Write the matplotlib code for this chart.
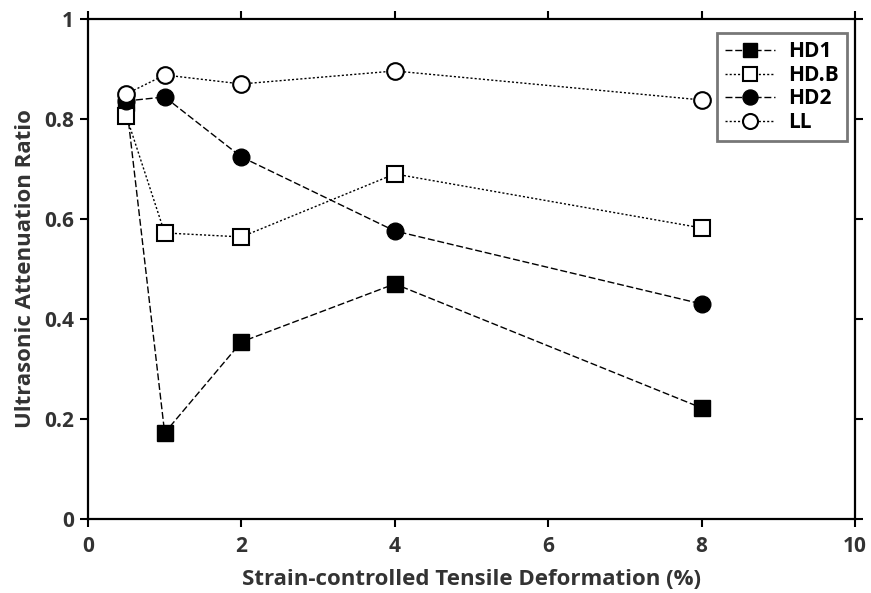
import matplotlib
matplotlib.use('Agg')
import matplotlib.pyplot as plt

plt.rcParams['font.family'] = ['Open Sans', 'DejaVu Sans']
plt.rcParams['font.weight'] = 'bold'

strain = [0.5, 1, 2, 4, 8]
hd1 = [0.832, 0.172, 0.354, 0.470, 0.222]
hdb = [0.806, 0.572, 0.564, 0.690, 0.582]
hd2 = [0.836, 0.844, 0.724, 0.576, 0.430]
ll = [0.850, 0.888, 0.870, 0.896, 0.838]

x_ticks = [0, 2, 4, 6, 8, 10]
y_ticks = [0, 0.2, 0.4, 0.6, 0.8, 1]
y_tick_labels = ['0', '0.2', '0.4', '0.6', '0.8', '1']

text_color = '#333333'

fig = plt.figure(figsize=(8.71, 5.93), dpi=100)
ax = fig.add_axes([0.101, 0.125, 0.8806, 0.843])

ax.plot(strain, hd1, ls=(0, (5, 2)), lw=1, color='black', marker='s', ms=11,
        mfc='black', mec='black', label='HD1')
ax.plot(strain, hdb, ls=(0, (1.5, 1.5)), lw=1, color='black', marker='s', ms=11,
        mfc='white', mec='black', mew=1.5, label='HD.B')
ax.plot(strain, hd2, ls=(0, (5, 2)), lw=1, color='black', marker='o', ms=12,
        mfc='black', mec='black', label='HD2')
ax.plot(strain, ll, ls=(0, (1.5, 1.5)), lw=1, color='black', marker='o', ms=12,
        mfc='white', mec='black', mew=1.5, label='LL')

ax.set_xlim(0, 10)
ax.set_ylim(0, 1)
ax.set_xticks(x_ticks)
ax.set_yticks(y_ticks)
ax.set_yticklabels(y_tick_labels)

for spine in ax.spines.values():
    spine.set_linewidth(1.6)
ax.tick_params(direction='out', length=6, width=1.5, labelsize=15,
               labelcolor=text_color, top=True, right=True)
ax.tick_params(axis='x', pad=6)
ax.tick_params(axis='y', pad=4)

ax.set_xlabel('Strain-controlled Tensile Deformation (%)', fontsize=16,
              fontweight='bold', color=text_color, labelpad=9)
ax.set_ylabel('Ultrasonic Attenuation Ratio', fontsize=16,
              fontweight='bold', color=text_color, labelpad=6)

leg = ax.legend(loc='upper right', bbox_to_anchor=(0.9896, 0.972),
                borderaxespad=0, fontsize=15, frameon=True, fancybox=False,
                edgecolor='#555555', handlelength=2.4, borderpad=0.4,
                labelspacing=0.12, handletextpad=0.6, markerscale=0.9)
leg.get_frame().set_linewidth(2)
for t in leg.get_texts():
    t.set_color('black')

fig.savefig('out.png', dpi=100)
